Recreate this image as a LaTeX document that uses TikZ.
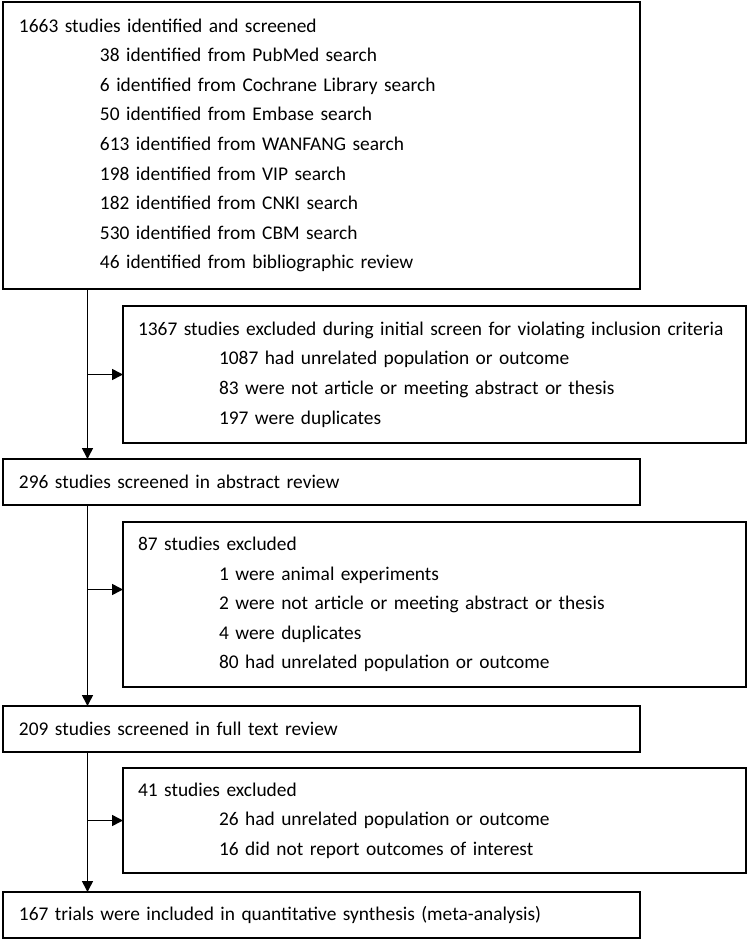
\documentclass[tikz,border=0pt]{standalone}
\usepackage{fontspec}
\setmainfont{Carlito}
\usetikzlibrary{arrows.meta,positioning}
\tikzstyle{mainbox}=[draw, line width=1.6pt, inner xsep=16pt, inner ysep=0pt, outer sep=0pt, text width=605pt, minimum height=46pt, align=left]
\tikzstyle{exclbox}=[draw, line width=1.6pt, inner xsep=15pt, inner ysep=0pt, outer sep=0pt, text width=593pt, minimum height=46pt, align=left]
\newcommand{\ind}{\hspace*{81pt}}

\begin{document}
\begin{tikzpicture}[->,>={Triangle[length=11pt,width=11pt]}, line width=1.6pt, font=\fontsize{19.4pt}{29.6pt}\selectfont]
  \useasboundingbox (0,0) rectangle (750pt,-942pt);
%
  \node[mainbox, minimum height=287pt, anchor=north west] (ident) at (3pt,-2pt) {1663 studies identified and screened\\
  \ind 38 identified from PubMed search\\
  \ind 6 identified from Cochrane Library search\\
  \ind 50 identified from Embase search\\
  \ind 613 identified from WANFANG search\\
  \ind 198 identified from VIP search\\
  \ind 182 identified from CNKI search\\
  \ind 530 identified from CBM search\\
  \ind 46 identified from bibliographic review};
%
  \node[exclbox, minimum height=137pt] (exclA) [below right=17pt and 120pt of ident.south west] {1367 studies excluded during initial screen for violating inclusion criteria\\
  \ind 1087 had unrelated population or outcome\\
  \ind 83 were not article or meeting abstract or thesis\\
  \ind 197 were duplicates};
  \node[mainbox] (absr) [below=170pt of ident] {296 studies screened in abstract review};
%
  \node[exclbox, minimum height=165pt] (exclB) [below right=17pt and 120pt of absr.south west] {87 studies excluded\\
  \ind 1 were animal experiments\\
  \ind 2 were not article or meeting abstract or thesis\\
  \ind 4 were duplicates\\
  \ind 80 had unrelated population or outcome};
  \node[mainbox] (full) [below=201pt of absr] {209 studies screened in full text review};
%
  \node[exclbox, minimum height=105pt] (exclC) [below right=16pt and 120pt of full.south west] {41 studies excluded\\
  \ind 26 had unrelated population or outcome\\
  \ind 16 did not report outcomes of interest};
  \node[mainbox] (incl) [below=140pt of full] {167 trials were included in quantitative synthesis (meta-analysis)};
%
  \coordinate (vA) at ([xshift=84.5pt]ident.south west);
  \coordinate (vB) at ([xshift=84.5pt]absr.south west);
  \coordinate (vC) at ([xshift=84.5pt]full.south west);
  \coordinate (jB) at ([yshift=15pt]exclB.west);
%
  \path[]
  (vA) edge (vA |- absr.north)
  (vA |- exclA.west) edge (exclA.west)
  (vB) edge (vB |- full.north)
  (vB |- jB) edge (jB)
  (vC) edge (vC |- incl.north)
  (vC |- exclC.west) edge (exclC.west);
\end{tikzpicture}
\end{document}
